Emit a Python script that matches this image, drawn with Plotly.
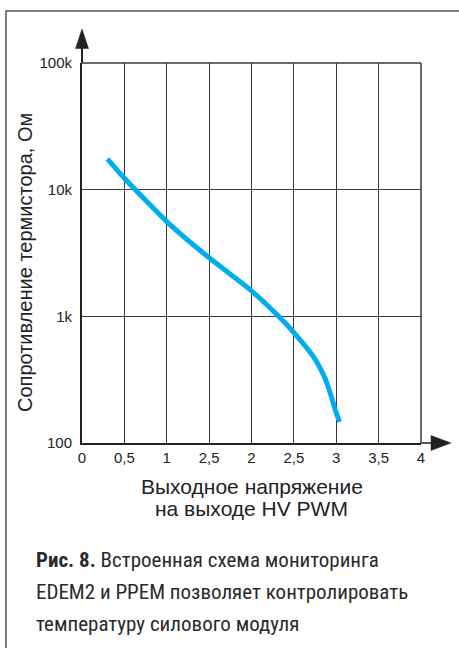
import plotly.graph_objects as go

# Data
voltage = [0.3, 0.5, 1.0, 1.5, 1.77, 2.0, 2.32, 2.5, 2.73, 2.85, 2.91, 3.0, 3.04]
resistance = [17500, 12300, 5600, 2900, 2100, 1590, 1000, 745, 481, 345, 272, 173, 147]

x_tickvals = [0, 0.5, 1, 1.5, 2, 2.5, 3, 3.5, 4]
x_ticktext = ["0", "0,5", "1", "2,5", "2", "2,5", "3", "3,5", "4"]
y_tickvals = [100, 1000, 10000, 100000]
y_ticktext = ["100", "1k", "10k", "100k"]

x_title_lines = ["Выходное напряжение", "на выходе HV PWM"]
y_title = "Сопротивление термистора, Ом"
caption_lines = [
    "<b>Рис. 8.</b> Встроенная схема мониторинга",
    "EDEM2 и PPEM позволяет контролировать",
    "температуру силового модуля",
]

W, H = 459, 648
L, R, T, B = 82, 421, 63, 443
PW, PH = R - L, B - T


def px(x):
    return (x - L) / PW


def py(y):
    return (B - y) / PH


fig = go.Figure()
fig.add_trace(go.Scatter(
    x=voltage, y=resistance, mode="lines",
    line=dict(color="#00AEEF", width=5, shape="spline", smoothing=0.5),
    hoverinfo="skip", showlegend=False,
))

base_font = "Liberation Sans, Arial, sans-serif"
axis_font = dict(family=base_font, size=15, color="#222")

fig.update_xaxes(
    range=[0, 4], tickvals=x_tickvals, ticktext=x_ticktext,
    showgrid=True, gridcolor="#3a3a3a", gridwidth=1.3,
    showline=True, linecolor="#222", linewidth=2,
    zeroline=False, ticks="", tickfont=axis_font, automargin=False,
)
fig.update_yaxes(
    type="log", range=[2, 5], tickvals=y_tickvals, ticktext=y_ticktext,
    showgrid=True, gridcolor="#3a3a3a", gridwidth=1.3,
    showline=True, linecolor="#222", linewidth=2,
    zeroline=False, ticks="", ticklabelstandoff=5, tickfont=axis_font, automargin=False,
)

shapes = []
# outer frame
shapes.append(dict(type="rect", xref="paper", yref="paper",
                   x0=px(6), x1=px(470), y0=py(11), y1=py(700),
                   line=dict(color="#555", width=1.5), layer="below"))
# top & right plot edges
shapes.append(dict(type="line", xref="paper", yref="paper",
                   x0=0, x1=1, y0=1, y1=1, line=dict(color="#3a3a3a", width=1.5)))
shapes.append(dict(type="line", xref="paper", yref="paper",
                   x0=1, x1=1, y0=0, y1=1, line=dict(color="#3a3a3a", width=1.5)))
# y axis arrow
shapes.append(dict(type="line", xref="paper", yref="paper",
                   x0=0, x1=0, y0=1, y1=py(46), line=dict(color="#222", width=2)))
shapes.append(dict(type="path", xref="paper", yref="paper",
                   path=f"M {px(75.5)} {py(48.5)} L {px(82)} {py(29)} L {px(88.5)} {py(48.5)} Z",
                   fillcolor="#222", line=dict(color="#222", width=0.5)))
# x axis arrow
shapes.append(dict(type="line", xref="paper", yref="paper",
                   x0=1, x1=px(434), y0=0, y1=0, line=dict(color="#555", width=2)))
shapes.append(dict(type="path", xref="paper", yref="paper",
                   path=f"M {px(431)} {py(435.5)} L {px(451)} {py(443)} L {px(431)} {py(450.5)} Z",
                   fillcolor="#222", line=dict(color="#222", width=0.5)))

annotations = []
# x-axis title (two tight lines)
for txt, yy in zip(x_title_lines, [486, 508]):
    annotations.append(dict(xref="paper", yref="paper", x=0.5, y=py(yy),
                            xanchor="center", yanchor="middle", showarrow=False, text=txt,
                            font=dict(family=base_font, size=21, color="#222")))
# y-axis title
annotations.append(dict(xref="paper", yref="paper", x=px(25), y=py(263),
                        xanchor="center", yanchor="middle", showarrow=False, textangle=-90,
                        text=y_title, font=dict(family=base_font, size=20, color="#222")))

cap_font = "Liberation Sans Narrow, Roboto Condensed, Liberation Sans, sans-serif"
for txt, yy in zip(caption_lines, [560, 592, 624]):
    annotations.append(dict(xref="paper", yref="paper", x=px(34), y=py(yy),
                            xanchor="left", yanchor="middle", showarrow=False, align="left",
                            text=txt, font=dict(family=cap_font, size=21, color="#2a2a2a")))

fig.update_layout(
    width=W, height=H,
    margin=dict(l=L, r=W - R, t=T, b=H - B),
    paper_bgcolor="white", plot_bgcolor="white",
    shapes=shapes, annotations=annotations,
)

fig.write_html("out.html", config={"displayModeBar": False},
               post_script="document.body.style.margin='0';")
